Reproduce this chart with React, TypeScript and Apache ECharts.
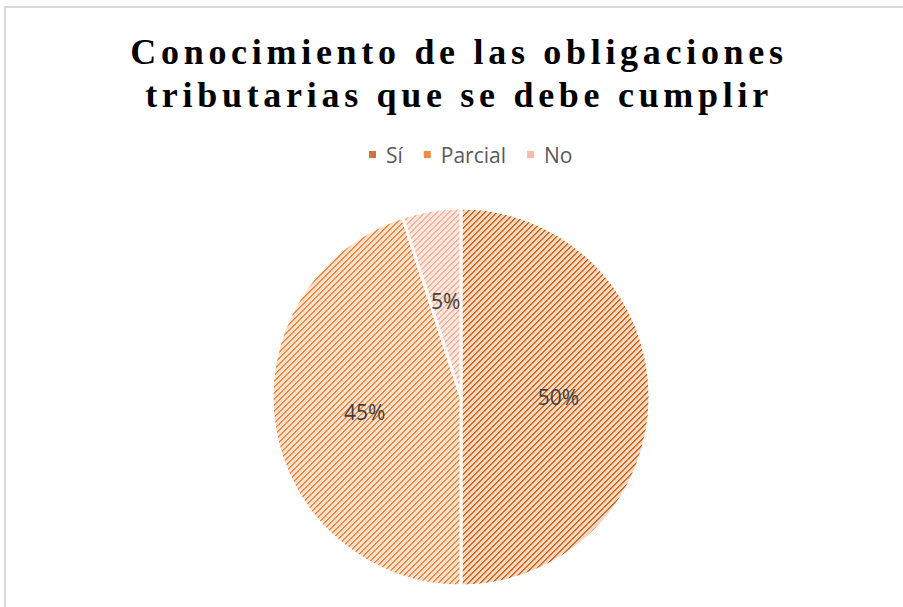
import React, { useEffect, useRef } from "react";
import * as echarts from "echarts";

const categories = ["Sí", "Parcial", "No"];
const values = [50, 45, 5];
const titleLines = ["Conocimiento de las obligaciones", "tributarias que se debe cumplir"];

function makeTile(bg: string, mid: string, dark: string) {
  const n = 6;
  const c = document.createElement("canvas");
  c.width = n;
  c.height = n;
  const ctx = c.getContext("2d")!;
  for (let y = 0; y < n; y++) {
    for (let x = 0; x < n; x++) {
      const d = (x + y) % n;
      ctx.fillStyle = d === 0 ? dark : d === 1 ? mid : bg;
      ctx.fillRect(x, y, 1, 1);
    }
  }
  return { image: c, repeat: "repeat" as const, imageWidth: n, imageHeight: n };
}

export default function App() {
  const ref = useRef<HTMLDivElement>(null);
  useEffect(() => {
    const el = ref.current!;
    const chart = echarts.init(el, undefined, { renderer: "svg" });
    const fills = [
      makeTile("#f9d6bd", "#d9803f", "#c55a11"),
      makeTile("#fce0cc", "#f29a5c", "#ed7d31"),
      makeTile("#fce6de", "#f6c0aa", "#f2a98e"),
    ];
    const legendColors = ["#cf7440", "#f08c45", "#f6bda5"];
    chart.setOption({
      animation: false,
      backgroundColor: "#ffffff",
      legend: {
        top: 144,
        left: 367,
        padding: 0,
        itemWidth: 9,
        itemHeight: 9,
        itemGap: 19,
        icon: "rect",
        textStyle: { fontSize: 21, color: "#595959", fontFamily: "Open Sans", padding: [0, 0, 0, 4] },
        data: categories.map((c, i) => ({ name: c, itemStyle: { color: legendColors[i] } })),
      },
      graphic: [
        {
          type: "rect",
          shape: { x: 5, y: 7, width: 1200, height: 1200 },
          style: { fill: "none", stroke: "#d9d9d9", lineWidth: 2 },
          silent: true,
        },
        ...titleLines.map((t, i) => ({
          type: "text",
          x: 459,
          y: 52 + i * 43,
          style: {
            text: t,
            fill: "#000000",
            font: "bold 36px 'Liberation Serif'",
            textAlign: "center",
            textVerticalAlign: "middle",
          },
          silent: true,
        })),
      ],
      series: [
        {
          type: "pie",
          center: [461, 397],
          radius: 189,
          startAngle: 90,
          clockwise: true,
          silent: true,
          label: {
            position: "inside",
            formatter: "{c}%",
            fontSize: 21,
            color: "#404040",
            fontFamily: "Open Sans",
          },
          labelLine: { show: false },
          itemStyle: { borderColor: "#ffffff", borderWidth: 3 },
          data: categories.map((c, i) => ({
            name: c,
            value: values[i],
            itemStyle: { color: fills[i] },
          })),
        },
      ],
    });
    const applySpacing = () => {
      el.querySelectorAll("text").forEach((t) => {
        if (titleLines.includes((t.textContent || "").trim())) {
          t.setAttribute("letter-spacing", "4.7");
        }
      });
    };
    applySpacing();
    chart.on("finished", applySpacing);
    return () => chart.dispose();
  }, []);
  return (
    <div
      ref={ref}
      style={{ position: "fixed", left: 0, top: 0, width: 903, height: 607, background: "#fff" }}
    />
  );
}
